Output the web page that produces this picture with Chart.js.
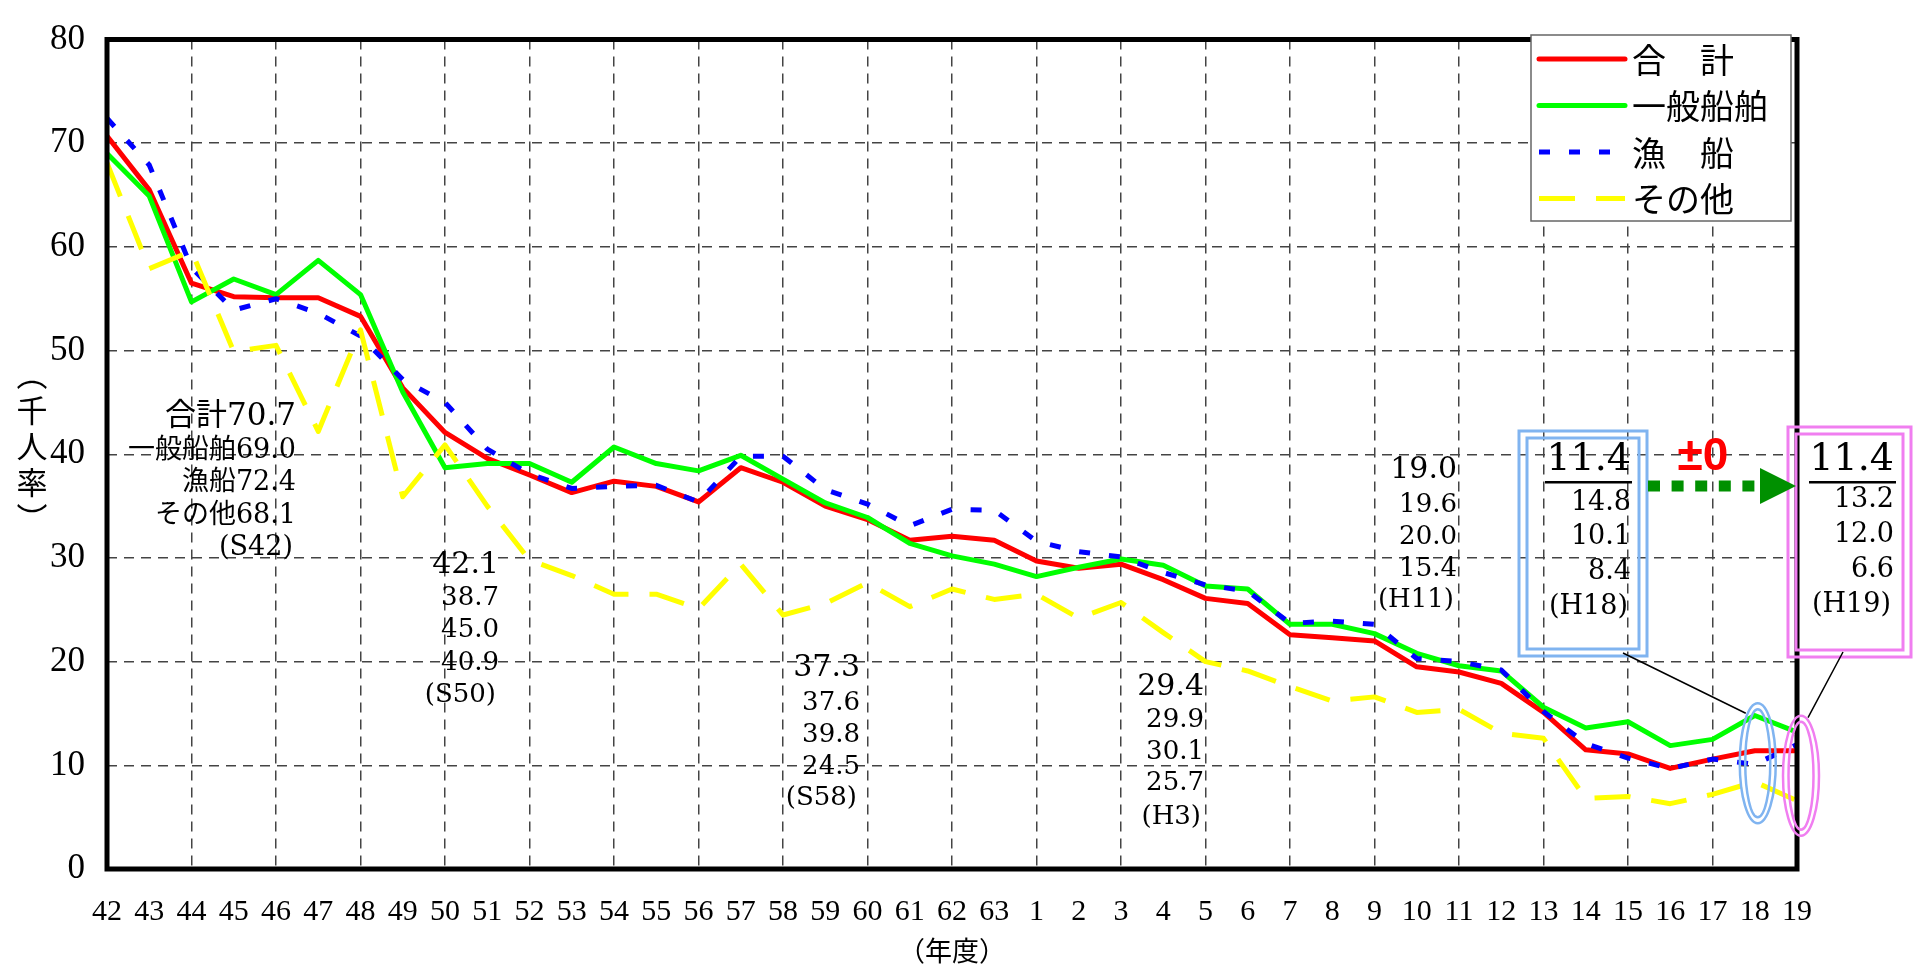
<!DOCTYPE html>
<html>
<head>
<meta charset="utf-8">
<script src="https://cdn.jsdelivr.net/npm/chart.js@4.4.1/dist/chart.umd.min.js"></script>
<style>
html, body { margin: 0; padding: 0; background: #fff; }
</style>
</head>
<body>
<canvas id="myChart" width="1915" height="972"></canvas>
<script>
// 年度 (S42..S63, H1..H19)
const years = ['42', '43', '44', '45', '46', '47', '48', '49', '50', '51', '52', '53', '54', '55', '56', '57', '58', '59', '60', '61', '62', '63',
    '1', '2', '3', '4', '5', '6', '7', '8', '9', '10', '11', '12', '13', '14', '15', '16', '17', '18', '19'];

const totalRate = [70.7, 65.5, 56.5, 55.2, 55.1, 55.1, 53.3, 46.4, 42.1, 39.6,
    38.0, 36.3, 37.4, 36.9, 35.4, 38.7, 37.3, 35.0, 33.7, 31.7,
    32.1, 31.7,
    29.7, 29.0, 29.4, 27.9, 26.1, 25.6, 22.6, 22.3, 22.0, 19.5,
    19.0, 17.9, 15.1, 11.5, 11.1, 9.7, 10.6, 11.4, 11.4];

const generalRate = [69.0, 64.9, 54.7, 56.9, 55.4, 58.7, 55.4, 46.0, 38.7, 39.1,
    39.1, 37.3, 40.7, 39.1, 38.4, 39.9, 37.6, 35.3, 33.9, 31.4,
    30.2, 29.4,
    28.2, 29.1, 29.9, 29.3, 27.3, 27.0, 23.6, 23.6, 22.7, 20.8,
    19.6, 19.1, 15.6, 13.6, 14.2, 11.9, 12.5, 14.8, 13.2];

const fishingRate = [72.4, 67.9, 58.0, 53.9, 55.0, 53.6, 51.4, 47.2, 45.0, 40.5,
    38.1, 36.7, 36.9, 37.0, 35.4, 39.8, 39.8, 36.6, 35.2, 33.1,
    34.7, 34.6,
    31.6, 30.6, 30.1, 28.6, 27.4, 26.8, 23.7, 23.9, 23.6, 20.3,
    20.0, 19.2, 15.2, 12.1, 10.7, 9.7, 10.6, 10.1, 12.0];

const otherRate = [68.1, 57.9, 59.6, 49.9, 50.5, 42.2, 52.0, 35.9, 40.9, 35.0,
    29.8, 28.3, 26.5, 26.5, 25.1, 29.4, 24.5, 25.6, 27.6, 25.3,
    27.0, 26.0,
    26.5, 24.2, 25.7, 22.8, 20.0, 19.1, 17.6, 16.2, 16.6, 15.1,
    15.4, 13.1, 12.6, 6.8, 7.0, 6.3, 7.2, 8.4, 6.6];

// 注記
const noteS42 = ['合計70.7', '一般船舶69.0', '漁船72.4', 'その他68.1', '(S42)'];
const noteS50 = ['42.1', '38.7', '45.0', '40.9', '(S50)'];
const noteS58 = ['37.3', '37.6', '39.8', '24.5', '(S58)'];
const noteH3 = ['29.4', '29.9', '30.1', '25.7', '(H3)'];
const noteH11 = ['19.0', '19.6', '20.0', '15.4', '(H11)'];
const noteH18 = ['11.4', '14.8', '10.1', '8.4', '(H18)'];
const noteH19 = ['11.4', '13.2', '12.0', '6.6', '(H19)'];
const changeText = '±0';
const yTitle = ['︵', '千', '人', '率', '︶'];

const SERIF = '"Liberation Serif", "Noto Sans CJK JP", serif';
const NOTE = '"DejaVu Serif", "Noto Sans CJK JP", serif';
const JP = '"Noto Sans CJK JP", sans-serif';

function textBlock(ctx, lines, right, ys, big, small) {
    ctx.fillStyle = '#000';
    ctx.textAlign = 'right';
    ctx.textBaseline = 'middle';
    lines.forEach((t, i) => {
        ctx.font = (i === 0 ? big : small) + 'px ' + NOTE;
        ctx.fillText(t, i === lines.length - 1 ? right - 3 : right, ys[i]);
    });
}

function dblRect(ctx, x, y, w, h, color) {
    ctx.strokeStyle = color;
    ctx.lineWidth = 3;
    ctx.setLineDash([]);
    ctx.strokeRect(x, y, w, h);
    ctx.strokeRect(x + 8, y + 7, w - 16, h - 14);
}

function dblEllipse(ctx, cx, cy, color) {
    ctx.strokeStyle = color;
    ctx.lineWidth = 2.5;
    ctx.setLineDash([]);
    ctx.beginPath();
    ctx.ellipse(cx, cy, 18, 60, 0, 0, Math.PI * 2);
    ctx.stroke();
    ctx.beginPath();
    ctx.ellipse(cx, cy, 12.5, 54, 0, 0, Math.PI * 2);
    ctx.stroke();
}

const overlay = {
    id: 'overlay',
    afterDraw(chart) {
        const ctx = chart.ctx;
        const a = chart.chartArea;
        const xs = chart.scales.x;
        const ys = chart.scales.y;
        ctx.save();

        // frame
        ctx.setLineDash([]);
        ctx.strokeStyle = '#000';
        ctx.lineWidth = 5;
        ctx.strokeRect(a.left, a.top, a.right - a.left, a.bottom - a.top);

        // y title (vertical)
        ctx.fillStyle = '#000';
        ctx.font = '31px ' + JP;
        ctx.textAlign = 'center';
        ctx.textBaseline = 'middle';
        yTitle.forEach((c, i) => ctx.fillText(c, 32, 374 + i * 36));

        // legend
        ctx.fillStyle = '#fff';
        ctx.fillRect(1531, 35, 260, 186);
        ctx.strokeStyle = '#666';
        ctx.lineWidth = 1.5;
        ctx.strokeRect(1531, 35, 260, 186);
        chart.data.datasets.forEach((d, i) => {
            const y = 59 + i * 46.5;
            ctx.strokeStyle = d.borderColor;
            ctx.lineWidth = 5;
            ctx.setLineDash(d.borderDash || []);
            ctx.lineCap = d.borderDash ? 'butt' : 'round';
            ctx.beginPath();
            ctx.moveTo(1539, y);
            ctx.lineTo(1625, y);
            ctx.stroke();
            ctx.setLineDash([]);
            ctx.fillStyle = '#000';
            ctx.font = '34px ' + JP;
            ctx.textAlign = 'left';
            ctx.textBaseline = 'middle';
            ctx.fillText(d.label, 1632, y + 1);
        });
        ctx.lineCap = 'butt';

        // notes
        textBlock(ctx, noteS42, 296, [417, 451, 483, 516, 548], 31, 27);
        textBlock(ctx, noteS50, 499, [565, 598, 630, 663, 695], 30, 26);
        textBlock(ctx, noteS58, 860, [668, 703, 735, 767, 798], 30, 26);
        textBlock(ctx, noteH3, 1204, [687, 720, 752, 783, 817], 30, 26);
        textBlock(ctx, noteH11, 1457, [470, 505, 537, 569, 600], 30, 26);
        textBlock(ctx, noteH18, 1631, [460, 503, 537, 572, 607], 38, 27);
        textBlock(ctx, noteH19, 1894, [460, 500, 535, 570, 605], 38, 27);

        // underlines
        ctx.fillStyle = '#000';
        ctx.fillRect(1545, 481, 87, 2.5);
        ctx.fillRect(1809, 481, 87, 2.5);

        // boxes
        dblRect(ctx, 1519, 431, 128, 225, '#80b4f0');
        dblRect(ctx, 1788, 427, 123, 230, '#f07ef0');

        // ellipses around H18 / H19
        const bx = xs.getPixelForValue(39) + 3, by = ys.getPixelForValue(10.2);
        const px = xs.getPixelForValue(40) + 4, py = ys.getPixelForValue(9.0);

        // leader lines
        ctx.strokeStyle = '#000';
        ctx.lineWidth = 1.5;
        ctx.setLineDash([]);
        ctx.beginPath();
        ctx.moveTo(1623, 653);
        ctx.lineTo(bx - 12, by - 50);
        ctx.moveTo(1843, 652);
        ctx.lineTo(px + 7, py - 58);
        ctx.stroke();

        dblEllipse(ctx, bx, by, '#80b4f0');
        dblEllipse(ctx, px, py, '#f07ef0');

        // ±0 and arrow
        ctx.fillStyle = '#ff0000';
        ctx.font = 'bold 46px "Liberation Sans", sans-serif';
        ctx.textAlign = 'center';
        ctx.textBaseline = 'middle';
        ctx.fillText(changeText, 1703, 457);

        ctx.strokeStyle = '#009000';
        ctx.lineWidth = 11;
        ctx.setLineDash([12, 11.6]);
        ctx.beginPath();
        ctx.moveTo(1648, 486);
        ctx.lineTo(1761, 486);
        ctx.stroke();
        ctx.setLineDash([]);
        ctx.fillStyle = '#009000';
        ctx.beginPath();
        ctx.moveTo(1760, 468);
        ctx.lineTo(1796, 486);
        ctx.lineTo(1760, 504);
        ctx.closePath();
        ctx.fill();

        ctx.restore();
    }
};

const ctx = document.getElementById('myChart').getContext('2d');

const chart = new Chart(ctx, {
    type: 'line',
    data: {
        labels: years,
        datasets: [
            { label: '合　計', data: totalRate, borderColor: '#ff0000', borderWidth: 5, order: 3 },
            { label: '一般船舶', data: generalRate, borderColor: '#00ff00', borderWidth: 5, order: 2 },
            { label: '漁　船', data: fishingRate, borderColor: '#0000ff', borderWidth: 5, borderDash: [11, 19], order: 1 },
            { label: 'その他', data: otherRate, borderColor: '#ffff00', borderWidth: 5, borderDash: [36, 21], order: 0 }
        ]
    },
    options: {
        responsive: false,
        animation: false,
        devicePixelRatio: 1,
        layout: { padding: { top: 18, right: 118, left: 0, bottom: 0 } },
        elements: {
            point: { radius: 0 },
            line: { tension: 0, fill: false, borderJoinStyle: 'round' }
        },
        plugins: {
            legend: { display: false },
            tooltip: { enabled: false }
        },
        scales: {
            x: {
                grid: {
                    color: c => c.index % 2 === 0 ? '#444' : 'rgba(0,0,0,0)',
                    lineWidth: 1.5,
                    drawTicks: false
                },
                border: { display: false, dash: [10, 7] },
                ticks: {
                    autoSkip: false,
                    maxRotation: 0,
                    color: '#000',
                    padding: 25,
                    font: { family: SERIF, size: 30 }
                },
                title: {
                    display: true,
                    text: '（年度）',
                    color: '#000',
                    font: { family: JP, size: 27 },
                    padding: { top: 0, bottom: 5 }
                },
                afterFit: s => { s.height = 103; }
            },
            y: {
                min: 0,
                max: 80,
                ticks: {
                    stepSize: 10,
                    color: '#000',
                    padding: 22,
                    font: { family: SERIF, size: 35, lineHeight: 1 }
                },
                grid: { color: '#444', lineWidth: 1.5, drawTicks: false },
                border: { display: false, dash: [10, 7] },
                afterFit: s => { s.width = 107; }
            }
        }
    },
    plugins: [overlay]
});
</script>
</body>
</html>
